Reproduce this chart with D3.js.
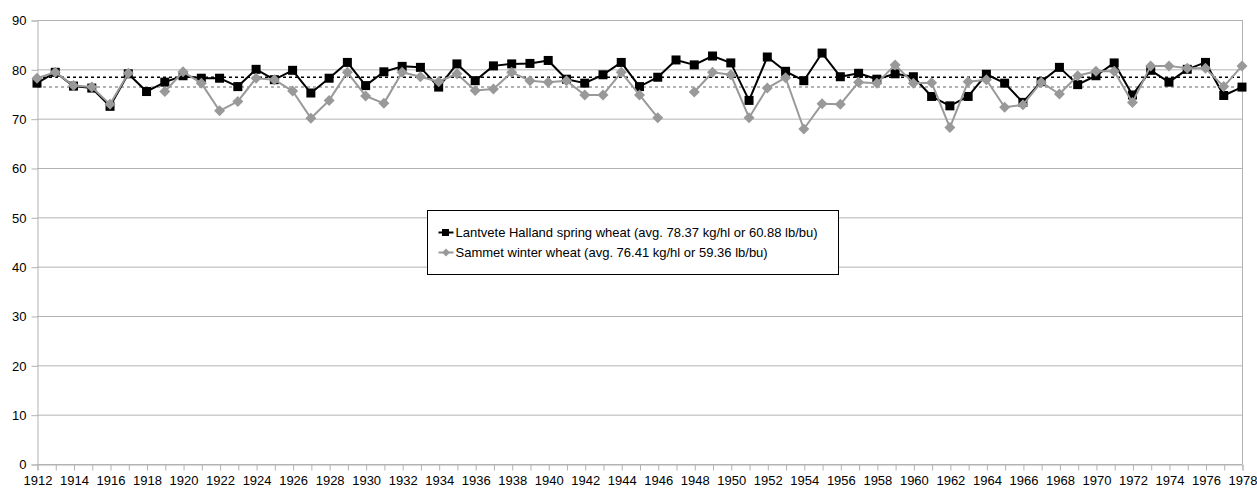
<!DOCTYPE html>
<html>
<head>
<meta charset="utf-8">
<script src="https://cdn.jsdelivr.net/npm/d3@7"></script>
<style>
  html, body { margin: 0; padding: 0; background: #fff; }
  svg { display: block; font-family: "Liberation Sans", Arial, sans-serif; }
</style>
</head>
<body>
<svg id="chart" width="1257" height="493"></svg>
<script>
// Hectolitre weight (kg/hl) of two Swedish wheat varieties, 1912–1978
const years = d3.range(1912, 1979);

const lantvete = [
  77.2, 79.4, 76.6, 76.2, 72.5, 79.1, 75.5, 77.4, 78.7, 78.2,
  78.2, 76.5, 80.0, 77.9, 79.8, 75.2, 78.2, 81.4, 76.7, 79.5,
  80.6, 80.4, 76.4, 81.1, 77.7, 80.7, 81.1, 81.2, 81.8, 78.0,
  77.2, 78.9, 81.4, 76.5, 78.4, 81.9, 80.9, 82.7, 81.3, 73.7,
  82.5, 79.6, 77.7, 83.3, 78.5, 79.2, 78.0, 79.1, 78.5, 74.5,
  72.6, 74.5, 79.0, 77.2, 73.3, 77.5, 80.4, 76.9, 78.7, 81.3,
  74.8, 79.8, 77.4, 80.0, 81.4, 74.7, 76.4
];

const sammet = [
  78.2, 79.4, 76.7, 76.4, 72.9, 79.2, null, 75.5, 79.5, 77.2,
  71.6, 73.5, 78.2, 77.9, 75.6, 70.1, 73.7, 79.4, 74.6, 73.1,
  79.4, 78.5, 77.5, 79.1, 75.7, 76.0, 79.4, 77.7, 77.4, 77.7,
  74.8, 74.8, 79.4, 74.8, 70.2, null, 75.4, 79.4, 78.9, 70.2,
  76.2, 78.3, 67.9, 73.0, 72.9, 77.4, 77.2, 80.9, 77.2, 77.3,
  68.2, 77.5, 77.9, 72.3, 72.8, 77.4, 75.0, 78.7, 79.6, 79.6,
  73.3, 80.7, 80.7, 80.2, 80.2, 76.5, 80.7
];

const averages = [78.37, 76.41];
const seriesNames = [
  "Lantvete Halland spring wheat (avg. 78.37 kg/hl or 60.88 lb/bu)",
  "Sammet winter wheat (avg. 76.41 kg/hl or 59.36 lb/bu)"
];
const yTicks = [0, 10, 20, 30, 40, 50, 60, 70, 80, 90];

const svg = d3.select("#chart");
const plotLeft = 37, plotRight = 1242, plotTop = 20, plotBottom = 464;
const gridColor = "#b3b3b3";
const grey = "#999999";

const x = d3.scaleLinear().domain([1912, 1978]).range([plotLeft, plotRight]);
const y = d3.scaleLinear().domain([0, 90]).range([plotBottom, plotTop]);

// horizontal grid lines
svg.append("g")
  .selectAll("line")
  .data(yTicks)
  .join("line")
  .attr("x1", plotLeft).attr("x2", plotRight)
  .attr("y1", d => y(d) + 0.5).attr("y2", d => y(d) + 0.5)
  .attr("stroke", gridColor).attr("stroke-width", 1);

// right wall of the plot area
svg.append("line")
  .attr("x1", plotRight + 0.5).attr("x2", plotRight + 0.5)
  .attr("y1", plotTop).attr("y2", plotBottom)
  .attr("stroke", gridColor);

// y axis
const yAxis = svg.append("g")
  .attr("transform", `translate(${plotLeft + 0.5},0.5)`)
  .call(d3.axisLeft(y).tickValues(yTicks).tickSize(6).tickPadding(5));
yAxis.select(".domain").attr("stroke", gridColor);
yAxis.selectAll(".tick line").attr("stroke", gridColor);
yAxis.selectAll("text").attr("font-size", 13).attr("fill", "#000")
  .attr("font-family", "Liberation Sans, Arial, sans-serif");

// x axis: a tick for each year, label on even years
const xAxis = svg.append("g")
  .attr("transform", `translate(0.5,${plotBottom + 0.5})`)
  .call(d3.axisBottom(x).tickValues(years).tickSize(6).tickPadding(5)
    .tickFormat(d => (d % 2 === 0 ? String(d) : "")));
xAxis.select(".domain").attr("stroke", gridColor);
xAxis.selectAll(".tick line").attr("stroke", gridColor);
xAxis.selectAll("text").attr("font-size", 13).attr("fill", "#000")
  .attr("font-family", "Liberation Sans, Arial, sans-serif");

// dotted average lines
svg.append("g")
  .selectAll("line")
  .data(averages)
  .join("line")
  .attr("x1", plotLeft).attr("x2", plotRight)
  .attr("y1", d => y(d)).attr("y2", d => y(d))
  .attr("stroke", (d, i) => (i === 0 ? "#000" : grey))
  .attr("stroke-width", 1.5)
  .attr("stroke-dasharray", "3,3");

const line = d3.line()
  .defined(d => d[1] !== null)
  .x(d => x(d[0]))
  .y(d => y(d[1]));

const ptsA = years.map((yr, i) => [yr, lantvete[i]]);
const ptsB = years.map((yr, i) => [yr, sammet[i]]);

// spring wheat: black line with squares
svg.append("path").datum(ptsA)
  .attr("d", line).attr("fill", "none")
  .attr("stroke", "#000").attr("stroke-width", 2).attr("stroke-linejoin", "round");
svg.append("g").selectAll("rect")
  .data(ptsA.filter(d => d[1] !== null))
  .join("rect")
  .attr("x", d => x(d[0]) - 4.5).attr("y", d => y(d[1]) - 4.5)
  .attr("width", 9).attr("height", 9).attr("fill", "#000");

// winter wheat: grey line with diamonds
const diamond = (cx, cy, r) => `M${cx},${cy - r}L${cx + r},${cy}L${cx},${cy + r}L${cx - r},${cy}Z`;
svg.append("path").datum(ptsB)
  .attr("d", line).attr("fill", "none")
  .attr("stroke", grey).attr("stroke-width", 2).attr("stroke-linejoin", "round");
svg.append("g").selectAll("path")
  .data(ptsB.filter(d => d[1] !== null))
  .join("path")
  .attr("d", d => diamond(x(d[0]), y(d[1]), 5.5))
  .attr("fill", grey);

// legend
const lg = svg.append("g").attr("transform", "translate(427.5,210.5)");
lg.append("rect").attr("width", 411).attr("height", 64)
  .attr("fill", "#fff").attr("stroke", "#000").attr("stroke-width", 1);
const rowsY = [22, 42];
const colors = ["#000", grey];
seriesNames.forEach((name, i) => {
  const g = lg.append("g").attr("transform", `translate(0,${rowsY[i]})`);
  g.append("line").attr("x1", 11).attr("x2", 26).attr("y1", 0).attr("y2", 0)
    .attr("stroke", colors[i]).attr("stroke-width", 2);
  if (i === 0) {
    g.append("rect").attr("x", 14.5).attr("y", -3.5).attr("width", 7).attr("height", 7).attr("fill", "#000");
  } else {
    g.append("path").attr("d", diamond(18.5, 0, 4)).attr("fill", grey);
  }
  g.append("text").attr("x", 28).attr("y", 0).attr("dy", "0.35em")
    .attr("font-size", 13).attr("fill", "#000").text(name);
});
</script>
</body>
</html>
